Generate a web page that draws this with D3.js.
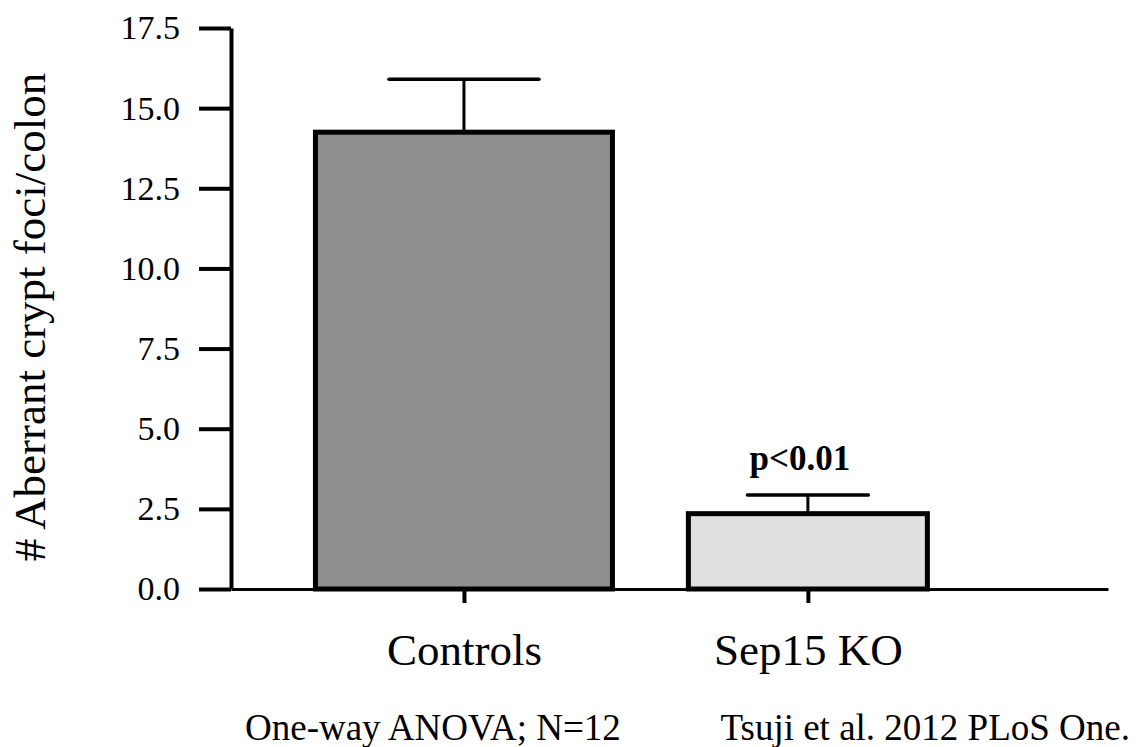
<!DOCTYPE html>
<html>
<head>
<meta charset="utf-8">
<script src="https://cdn.jsdelivr.net/npm/d3@7"></script>
<style>
  body { margin: 0; background: #fff; }
  svg text { font-family: "Liberation Serif", "DejaVu Serif", serif !important; fill: #000; }
</style>
</head>
<body>
<svg width="1136" height="747"></svg>
<script>
// --- data ---
const groups = ["Controls", "Sep15 KO"];
const means = [14.25, 2.35];
const sems = [1.65, 0.58];
const yTicks = [0, 2.5, 5, 7.5, 10, 12.5, 15, 17.5];

const fills = ["#8f8f8f", "#e0e0e0"];
const barWidths = [297, 239];
const capWidths = [150, 121];
const serif = '"Liberation Serif", "DejaVu Serif", serif';

const svg = d3.select("svg");

const x = d3.scalePoint().domain(groups).range([231, 1108]).padding(0.775).align(0.437);
const y = d3.scaleLinear().domain([0, 17.5]).range([589, 28]);

// y axis
const yAxis = svg.append("g").attr("transform", "translate(231,0)")
  .call(d3.axisLeft(y).tickValues(yTicks).tickFormat(d3.format(".1f")).tickSize(32).tickSizeOuter(0).tickPadding(19));
yAxis.attr("font-family", serif);
yAxis.select(".domain").attr("stroke-width", 4);
yAxis.selectAll(".tick line").attr("stroke-width", 4);
yAxis.selectAll(".tick text").style("font-size", "34px");

// x axis
const xAxis = svg.append("g").attr("transform", `translate(0,${y(0)})`)
  .call(d3.axisBottom(x).tickSize(14).tickSizeOuter(0).tickPadding(0));
xAxis.attr("font-family", serif);
xAxis.select(".domain").attr("stroke-width", 3);
xAxis.selectAll(".tick line").attr("stroke-width", 4);
xAxis.selectAll(".tick text").remove();
xAxis.selectAll(".tick").append("text")
  .attr("y", 76).attr("text-anchor", "middle")
  .style("font-size", "45px")
  .text(d => d);

// error bars (drawn behind bars)
const err = svg.append("g").selectAll("g").data(groups).join("g");
err.append("line")
  .attr("x1", d => x(d)).attr("x2", d => x(d))
  .attr("y1", (d, i) => y(means[i])).attr("y2", (d, i) => y(means[i] + sems[i]))
  .attr("stroke", "#000").attr("stroke-width", 3);
err.append("line")
  .attr("x1", (d, i) => x(d) - capWidths[i] / 2).attr("x2", (d, i) => x(d) + capWidths[i] / 2)
  .attr("y1", (d, i) => y(means[i] + sems[i])).attr("y2", (d, i) => y(means[i] + sems[i]))
  .attr("stroke", "#000").attr("stroke-width", 3.5).attr("stroke-linecap", "round");

// bars
svg.append("g").selectAll("rect").data(groups).join("rect")
  .attr("x", (d, i) => x(d) - barWidths[i] / 2)
  .attr("width", (d, i) => barWidths[i])
  .attr("y", (d, i) => y(means[i]))
  .attr("height", (d, i) => y(0) - y(means[i]))
  .attr("fill", (d, i) => fills[i])
  .attr("stroke", "#000").attr("stroke-width", 5);

// significance label
svg.append("text")
  .attr("x", x("Sep15 KO") - 8).attr("y", 470)
  .attr("text-anchor", "middle")
  .style("font-size", "35px").style("font-weight", "bold")
  .text("p<0.01");

// y axis title
svg.append("text")
  .attr("transform", "translate(45,317) rotate(-90)")
  .attr("text-anchor", "middle")
  .style("font-size", "45px")
  .text("# Aberrant crypt foci/colon");

// footer notes
svg.append("text").attr("x", 245).attr("y", 740).style("font-size", "37px").text("One-way ANOVA; N=12");
svg.append("text").attr("x", 1130).attr("y", 740).attr("text-anchor", "end").style("font-size", "37px").text("Tsuji et al. 2012 PLoS One.");
</script>
</body>
</html>
